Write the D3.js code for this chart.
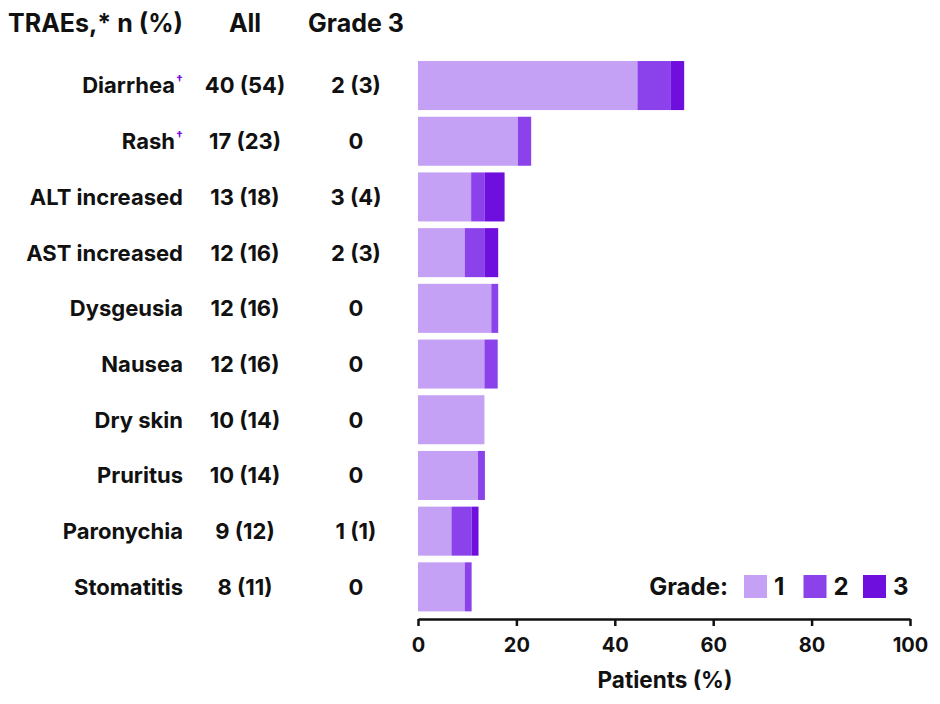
<html>
<meta charset="utf-8"></meta>
<script src="https://cdn.jsdelivr.net/npm/d3@7/dist/d3.min.js" charset="utf-8"></script>
<style>
body{margin:0;background:#fff;}
text{font-family:Inter,"Noto Sans",sans-serif;fill:#111;}
</style>
<body onload="load();">
<svg id="idSvg001" width="940" height="704"></svg>
<script type="text/javascript">
// rows, top to bottom
var categories = ["Diarrhea","Rash","ALT increased","AST increased","Dysgeusia","Nausea","Dry skin","Pruritus","Paronychia","Stomatitis"];
var footnotes = ["\u2020","\u2020","","","","","","","",""];
var allCounts = ["40 (54)","17 (23)","13 (18)","12 (16)","12 (16)","12 (16)","10 (14)","10 (14)","9 (12)","8 (11)"];
var grade3Counts = ["2 (3)","0","3 (4)","2 (3)","0","0","0","0","1 (1)","0"];
// percent of patients by grade
var grade1 = [44.6, 20.3, 10.8, 9.5, 14.9, 13.5, 13.5, 12.2, 6.8, 9.5];
var grade2 = [6.8, 2.7, 2.7, 4.1, 1.4, 2.7, 0, 1.4, 4.1, 1.4];
var grade3 = [2.7, 0, 4.1, 2.7, 0, 0, 0, 0, 1.4, 0];
var gradeNames = ["1","2","3"];
var xTicks = [0,20,40,60,80,100];
var colors = ["#c4a1f5","#8b42ea","#6f0fde"];

function load(){
	draw();
}
function draw(){
	var svg = d3.select("#idSvg001");
	var x = d3.scaleLinear().domain([0,100]).range([418,910]);
	var y = d3.scaleBand().domain(categories).range([57.7,614.7]).paddingInner(0.12).paddingOuter(0.06);

	// header
	var hd = svg.append("g").attr("font-size",25).attr("font-weight",700);
	hd.append("text").attr("x",183).attr("y",32).attr("text-anchor","end").text("TRAEs,* n (%)");
	hd.append("text").attr("x",245).attr("y",32).attr("text-anchor","middle").text("All");
	hd.append("text").attr("x",356).attr("y",32).attr("text-anchor","middle").text("Grade 3");

	// table columns
	var tb = svg.append("g").attr("font-size",22).attr("font-weight",700);
	categories.forEach(function(c,i){
		var cy = y(c) + y.bandwidth()/2;
		var t = tb.append("text").attr("x",183).attr("y",cy).attr("dy","0.36em").attr("text-anchor","end");
		t.append("tspan").text(c);
		if(footnotes[i]){
			t.append("tspan").attr("font-size",12).attr("dy","-0.75em").attr("dx",1).style("fill","#6f0fde").text(footnotes[i]);
		}
		tb.append("text").attr("x",245).attr("y",cy).attr("dy","0.36em").attr("text-anchor","middle").text(allCounts[i]);
		tb.append("text").attr("x",356).attr("y",cy).attr("dy","0.36em").attr("text-anchor","middle").text(grade3Counts[i]);
	});

	// stacked bars
	var rows = categories.map(function(c,i){ return {cat:c, g1:grade1[i], g2:grade2[i], g3:grade3[i]}; });
	var stack = d3.stack().keys(["g1","g2","g3"])(rows);
	var bars = svg.append("g");
	stack.forEach(function(layer,k){
		bars.append("g").attr("fill",colors[k]).selectAll("rect").data(layer.filter(function(d){ return d[1]>d[0]; }))
			.enter().append("rect")
			.attr("x",function(d){ return x(d[0]); })
			.attr("y",function(d){ return y(d.data.cat); })
			.attr("width",function(d){ return x(d[1])-x(d[0]); })
			.attr("height",y.bandwidth());
	});

	// x axis
	var ax = svg.append("g").attr("transform","translate(0,619)")
		.call(d3.axisBottom(x).tickValues(xTicks).tickSize(7).tickSizeOuter(0).tickPadding(12));
	ax.select(".domain").attr("stroke","#111").attr("stroke-width",2.5);
	ax.selectAll(".tick line").attr("stroke","#111").attr("stroke-width",2.5);
	ax.selectAll(".tick text").attr("font-size",20).attr("font-weight",700).attr("font-family","Inter,'Noto Sans',sans-serif").style("fill","#111");
	svg.append("text").attr("x",665).attr("y",688).attr("text-anchor","middle").attr("font-size",22.5).attr("font-weight",700).text("Patients (%)");

	// legend
	var lg = svg.append("g").attr("font-size",24).attr("font-weight",700);
	lg.append("text").attr("x",728).attr("y",586).attr("dy","0.36em").attr("text-anchor","end").text("Grade:");
	gradeNames.forEach(function(g,k){
		var lx = 744 + k*59.5;
		lg.append("rect").attr("x",lx).attr("y",575).attr("width",23).attr("height",23).attr("fill",colors[k]);
		lg.append("text").attr("x",lx+30).attr("y",586).attr("dy","0.36em").text(g);
	});
}
</script>
</body>
</html>
